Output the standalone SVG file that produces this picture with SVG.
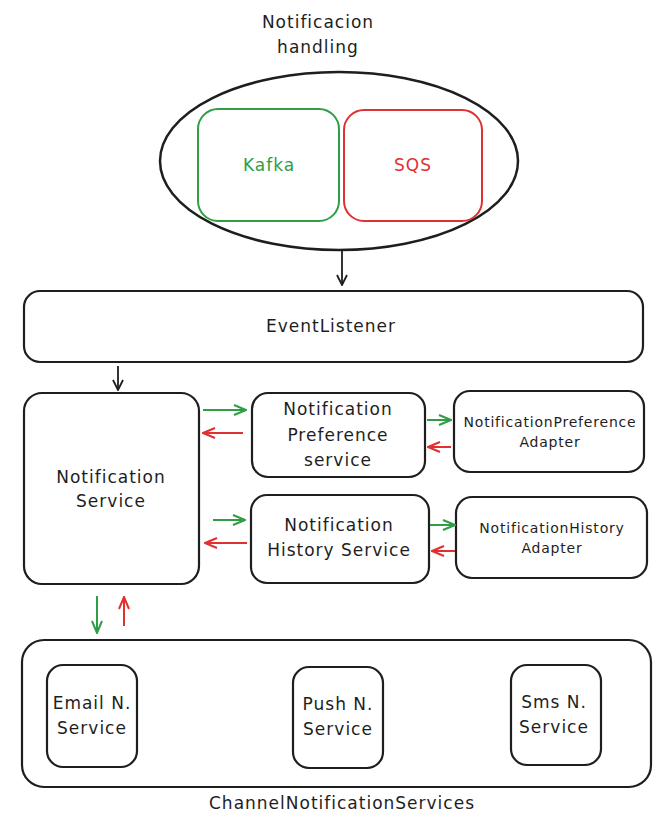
<svg xmlns="http://www.w3.org/2000/svg" width="661" height="826" viewBox="0 0 661 826">
<style>
text{font-family:"DejaVu Sans","Liberation Sans",sans-serif;fill:#1e1e1e;text-anchor:middle;dominant-baseline:central}
.b{fill:none;stroke:#1e1e1e;stroke-width:2.2}
.t{font-size:17px;letter-spacing:1px}
.s{font-size:14px;letter-spacing:0.8px}
.g{stroke:#2f9e44;stroke-width:2;fill:none}
.r{stroke:#e03131;stroke-width:2;fill:none}
.k{stroke:#1e1e1e;stroke-width:1.8;fill:none}
</style>
<defs>
<marker id="ak" viewBox="0 0 12 12" refX="11" refY="6" markerWidth="12" markerHeight="12" markerUnits="userSpaceOnUse" orient="auto"><path d="M1,1 L11,6 L1,11" fill="none" stroke="#1e1e1e" stroke-width="1.8"/></marker>
<marker id="ag" viewBox="0 0 14 12" refX="13" refY="6" markerWidth="14" markerHeight="12" markerUnits="userSpaceOnUse" orient="auto"><path d="M1,1 L13,6 L1,11" fill="none" stroke="#2f9e44" stroke-width="2"/></marker>
<marker id="ar" viewBox="0 0 14 12" refX="13" refY="6" markerWidth="14" markerHeight="12" markerUnits="userSpaceOnUse" orient="auto"><path d="M1,1 L13,6 L1,11" fill="none" stroke="#e03131" stroke-width="2"/></marker>
</defs>
<rect width="661" height="826" fill="#ffffff"/>
<g id="title"><text class="t" x="318" y="22">Notificacion</text><text class="t" x="318" y="47">handling</text></g>
<g id="queues"><ellipse cx="339" cy="161" rx="179" ry="89" fill="none" stroke="#1e1e1e" stroke-width="2.5"/></g>
<g id="kafka"><rect x="198" y="109" width="141" height="112" rx="20" fill="none" stroke="#2f9e44" stroke-width="2"/><text class="t" x="269" y="165" style="fill:#2f9e44">Kafka</text></g>
<g id="sqs"><rect x="344" y="110" width="138" height="111" rx="20" fill="none" stroke="#e03131" stroke-width="2"/><text class="t" x="413" y="165" style="fill:#e03131">SQS</text></g>
<g id="eventlistener"><rect class="b" x="24" y="291" width="619" height="71" rx="16"/><text class="t" x="331" y="326">EventListener</text></g>
<g id="notificationservice"><rect class="b" x="24" y="393" width="175" height="191" rx="18"/><text class="t" x="111" y="477">Notification</text><text class="t" x="111" y="501">Service</text></g>
<g id="prefservice"><rect class="b" x="252" y="393" width="173" height="84" rx="16"/><text class="t" x="338" y="409">Notification</text><text class="t" x="338" y="435">Preference</text><text class="t" x="338" y="460">service</text></g>
<g id="prefadapter"><rect class="b" x="454" y="391" width="190" height="81" rx="16"/><text class="s" x="550" y="422">NotificationPreference</text><text class="s" x="550" y="442">Adapter</text></g>
<g id="histservice"><rect class="b" x="251" y="495" width="178" height="88" rx="16"/><text class="t" x="339" y="525">Notification</text><text class="t" x="339" y="550">History Service</text></g>
<g id="histadapter"><rect class="b" x="456" y="497" width="191" height="81" rx="16"/><text class="s" x="552" y="528">NotificationHistory</text><text class="s" x="552" y="548">Adapter</text></g>
<g id="channel"><rect class="b" x="22" y="640" width="629" height="147" rx="22"/><text class="t" x="342" y="803">ChannelNotificationServices</text></g>
<g id="email"><rect class="b" x="47" y="665" width="90" height="102" rx="16"/><text class="t" x="92" y="703">Email N.</text><text class="t" x="92" y="728">Service</text></g>
<g id="push"><rect class="b" x="293" y="667" width="90" height="101" rx="16"/><text class="t" x="338" y="704">Push N.</text><text class="t" x="338" y="729">Service</text></g>
<g id="sms"><rect class="b" x="511" y="665" width="90" height="100" rx="16"/><text class="t" x="554" y="702">Sms N.</text><text class="t" x="554" y="727">Service</text></g>
<g id="connectors">
<path class="k" d="M342,251 L342,285" marker-end="url(#ak)"/>
<path class="k" d="M118,366 L118,390" marker-end="url(#ak)"/>
<path class="g" d="M203,410 L246,410" marker-end="url(#ag)"/>
<path class="r" d="M243,433 L203,433" marker-end="url(#ar)"/>
<path class="g" d="M213,520 L245,520" marker-end="url(#ag)"/>
<path class="r" d="M247,543 L205,543" marker-end="url(#ar)"/>
<path class="g" d="M427,420 L451,420" marker-end="url(#ag)"/>
<path class="r" d="M451,447 L428,447" marker-end="url(#ar)"/>
<path class="g" d="M430,525 L455,525" marker-end="url(#ag)"/>
<path class="r" d="M455,551 L432,551" marker-end="url(#ar)"/>
<path class="g" d="M97,596 L97,633" marker-end="url(#ag)"/>
<path class="r" d="M124,626 L124,597" marker-end="url(#ar)"/>
</g>
</svg>
